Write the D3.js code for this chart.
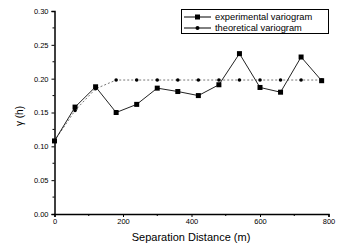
<!DOCTYPE html>
<html><head><meta charset="utf-8">
<script src="https://cdn.jsdelivr.net/npm/d3@7"></script>
<style>body{margin:0;background:#fff}svg{display:block}text{font-family:"Liberation Sans",Arial,sans-serif}</style>
</head><body><svg id="c" width="338" height="249"></svg>
<script>
const lags = [0, 60, 120, 180, 240, 300, 360, 420, 480, 540, 600, 660, 720, 780];
const experimental = [0.108, 0.158, 0.188, 0.150, 0.162, 0.186, 0.181, 0.175, 0.191, 0.237, 0.187, 0.180, 0.232, 0.197];
const theoretical = [0.108, 0.153, 0.185, 0.198, 0.198, 0.198, 0.198, 0.198, 0.198, 0.198, 0.198, 0.198, 0.198, 0.198];
const xTicks = [0, 200, 400, 600, 800];
const yTicks = [0.00, 0.05, 0.10, 0.15, 0.20, 0.25, 0.30];
const seriesNames = ["experimental variogram", "theoretical variogram"];

const svg = d3.select("#c");
const x = d3.scaleLinear().domain([0, 800]).range([54.5, 328.5]);
const y = d3.scaleLinear().domain([0, 0.30]).range([214, 11]);

// minor ticks
const xMinor = d3.range(100, 800, 200);
const yMinor = d3.range(0.025, 0.30, 0.05);
svg.append("g").selectAll("line").data(xMinor).join("line")
  .attr("x1", d => x(d)).attr("x2", d => x(d)).attr("y1", 214).attr("y2", 216)
  .attr("stroke", "#000").attr("stroke-width", 1);
svg.append("g").selectAll("line").data(yMinor).join("line")
  .attr("y1", d => y(d)).attr("y2", d => y(d)).attr("x1", 54.5).attr("x2", 52.5)
  .attr("stroke", "#000").attr("stroke-width", 1);

const xAxis = svg.append("g").attr("transform", "translate(0,214)")
  .call(d3.axisBottom(x).tickValues(xTicks).tickFormat(d3.format("d")).tickSize(3).tickPadding(2));
const yAxis = svg.append("g").attr("transform", "translate(54.5,0)")
  .call(d3.axisLeft(y).tickValues(yTicks).tickFormat(d3.format(".2f")).tickSize(3).tickPadding(3));
[xAxis, yAxis].forEach(g => {
  g.select(".domain").attr("stroke-width", 1.5);
  g.selectAll("text").attr("font-size", 7.5).attr("font-family", "Liberation Sans, Arial, sans-serif").attr("fill", "#000");
});

// theoretical line
const lineT = d3.line().x((d, i) => x(lags[i])).y(d => y(d));
svg.append("path").attr("d", lineT(theoretical)).attr("fill", "none")
  .attr("stroke", "#777").attr("stroke-width", 1).attr("stroke-dasharray", "2,2");
svg.append("g").selectAll("circle").data(theoretical).join("circle")
  .attr("cx", (d, i) => x(lags[i])).attr("cy", d => y(d)).attr("r", 1.8).attr("fill", "#000");

// experimental line
svg.append("path").attr("d", lineT(experimental)).attr("fill", "none")
  .attr("stroke", "#222").attr("stroke-width", 1);
svg.append("g").selectAll("rect").data(experimental).join("rect")
  .attr("x", (d, i) => x(lags[i]) - 2.5).attr("y", d => y(d) - 2.5)
  .attr("width", 5).attr("height", 5).attr("fill", "#000");

// legend
const lg = svg.append("g");
lg.append("rect").attr("x", 181.5).attr("y", 9.5).attr("width", 147).attr("height", 24)
  .attr("fill", "#fff").attr("stroke", "#000").attr("stroke-width", 1);
const rows = [17, 28];
lg.append("line").attr("x1", 184).attr("x2", 211).attr("y1", rows[0]).attr("y2", rows[0]).attr("stroke", "#000");
lg.append("rect").attr("x", 195).attr("y", rows[0] - 2.5).attr("width", 5).attr("height", 5).attr("fill", "#000");
lg.append("line").attr("x1", 184).attr("x2", 211).attr("y1", rows[1]).attr("y2", rows[1]).attr("stroke", "#000");
lg.append("circle").attr("cx", 197.5).attr("cy", rows[1]).attr("r", 2).attr("fill", "#000");
seriesNames.forEach((n, i) => {
  lg.append("text").attr("x", 215).attr("y", rows[i]).attr("dy", "0.35em")
    .attr("font-size", 9.3).attr("fill", "#000").text(n);
});

// axis titles
svg.append("text").attr("x", 191).attr("y", 241).attr("text-anchor", "middle")
  .attr("font-size", 11).attr("fill", "#000").text("Separation Distance (m)");
svg.append("text").attr("transform", "translate(23,116) rotate(-90)").attr("text-anchor", "middle")
  .attr("font-size", 10).attr("fill", "#000").text("γ (h)");
</script></body></html>
